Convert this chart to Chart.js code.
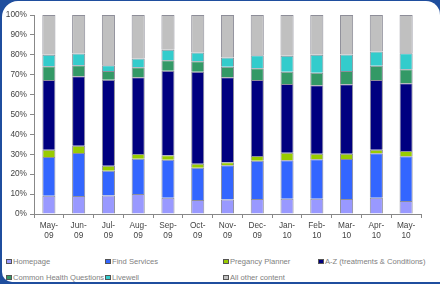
<!DOCTYPE html>
<html>
<head>
<meta charset="utf-8">
<script src="https://cdn.jsdelivr.net/npm/chart.js@4"></script>
<style>
html, body { margin:0; padding:0; }
body { width:440px; height:284px; background:#1f4e9e; overflow:hidden; position:relative; }
#panel { position:absolute; left:2px; top:1px; right:0; bottom:2px; background:#fff;
  border-radius:16px 14px 0 10px; }
#wrap { position:absolute; left:0; top:0; width:440px; height:250px; }
#legend { position:absolute; left:6px; top:257px; display:grid;
  grid-template-columns:99px 118px 95px 124px; row-gap:7px;
  font-family:'Liberation Sans', Arial, sans-serif; font-size:7.6px; color:#808080; line-height:9px; }
#legend span.box { display:inline-block; width:3.5px; height:3.5px; margin-right:1.5px; vertical-align:0px;
  border:0.5px solid #555; }
</style>
</head>
<body>
<div id="panel"></div>
<div id="wrap"><canvas id="myChart" width="440" height="250"></canvas></div>
<div id="legend"></div>
<script>
var months = [['May-','09'],['Jun-','09'],['Jul-','09'],['Aug-','09'],['Sep-','09'],['Oct-','09'],['Nov-','09'],['Dec-','09'],['Jan-','10'],['Feb-','10'],['Mar-','10'],['Apr-','10'],['May-','10']];
var homepage     = [9.2, 9.0, 9.3, 10.0, 8.2, 7.0, 7.3, 7.5, 7.7, 7.7, 7.5, 8.2, 6.5];
var findServices = [19.5, 21.7, 12.4, 17.8, 19.1, 16.3, 17.2, 19.2, 19.3, 19.8, 20.2, 22.3, 22.5];
var pregnancy    = [3.6, 3.6, 2.5, 2.4, 2.2, 2.0, 1.5, 2.5, 3.8, 2.8, 2.6, 1.8, 2.7];
var aToZ         = [35.0, 34.9, 43.3, 38.5, 42.5, 46.2, 42.7, 38.1, 34.5, 34.4, 34.9, 35.0, 34.0];
var healthQs     = [6.9, 5.6, 4.3, 5.0, 5.3, 5.2, 5.3, 6.0, 6.2, 6.3, 6.6, 7.2, 7.1];
var livewell     = [5.8, 5.9, 3.0, 4.5, 5.2, 4.5, 4.7, 6.5, 8.0, 9.0, 8.4, 7.2, 8.0];
var otherContent = [20.0, 19.3, 25.2, 21.8, 17.5, 18.8, 21.3, 20.2, 20.5, 20.0, 19.8, 18.3, 19.2];

var series = [
  ['Homepage', homepage, '#9999ff'],
  ['Find Services', findServices, '#3366ff'],
  ['Pregancy Planner', pregnancy, '#99cc00'],
  ['A-Z (treatments & Conditions)', aToZ, '#000080'],
  ['Common Health Questions', healthQs, '#339966'],
  ['Livewell', livewell, '#33cccc'],
  ['All other content', otherContent, '#c0c0c0']
];

var tickFont = { family: 'Liberation Sans', size: 8.3 };

window.onload = function () {
  var ctx = document.getElementById('myChart');
  var myChart = new Chart(ctx, {
    type: 'bar',
    data: {
      labels: months,
      datasets: series.map(function (s) {
        return {
          label: s[0],
          data: s[1],
          backgroundColor: s[2],
          borderColor: 'rgba(50,50,70,0.55)',
          borderWidth: 1,
          categoryPercentage: 1,
          barPercentage: 0.44
        };
      })
    },
    options: {
      responsive: false,
      animation: false,
      layout: { padding: { top: 15, right: 19, left: 0, bottom: 0 } },
      plugins: { legend: { display: false }, tooltip: { enabled: false } },
      scales: {
        x: {
          stacked: true,
          grid: { drawOnChartArea: false, drawTicks: true, tickLength: 4, color: '#888' },
          border: { color: '#888' },
          ticks: { font: tickFont, color: '#444', padding: 3, maxRotation: 0, autoSkip: false },
          afterFit: function (scale) { scale.height = 36; }
        },
        y: {
          stacked: true,
          min: 0, max: 100,
          grid: { drawOnChartArea: false, drawTicks: true, tickLength: 4, color: '#888' },
          border: { color: '#888' },
          ticks: { stepSize: 10, font: tickFont, color: '#444', padding: 3,
            callback: function (v) { return v + '%'; } },
          afterFit: function (scale) { scale.width = 34; }
        }
      }
    }
  });

  var leg = document.getElementById('legend');
  myChart.data.datasets.forEach(function (ds) {
    var item = document.createElement('div');
    item.innerHTML = '<span class="box" style="background:' + ds.backgroundColor + '"></span>' +
      ds.label.replace(/&/g, '&amp;');
    item.style.whiteSpace = 'nowrap';
    leg.appendChild(item);
  });
};
</script>
</body>
</html>
